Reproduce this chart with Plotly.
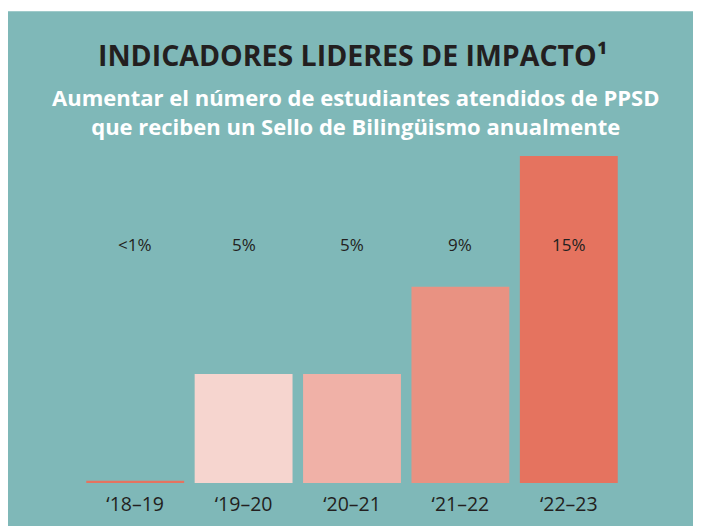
import plotly.graph_objects as go

categories = ["\u201818\u201319", "\u201819\u201320", "\u201820\u201321", "\u201821\u201322", "\u201822\u201323"]
values = [0.1, 5, 5, 9, 15]
value_labels = ["<1%", "5%", "5%", "9%", "15%"]
bar_colors = ["#E5735F", "#F6D5CF", "#F0B1A7", "#E99282", "#E5735F"]

title_text = "INDICADORES LIDERES DE IMPACTO\u00b9"
subtitle_text = "Aumentar el número de estudiantes atendidos de PPSD<br>que reciben un Sello de Bilingüismo anualmente"

TEAL = "#7FB8B8"
DARK = "#231F20"
FONT = "Open Sans"

# page is rendered with an 8px body margin, so geometry is offset by -8px
PL, PT, PW, PH = 73, 148, 542.5, 327.5
BASE = PT + PH

fig = go.Figure(go.Bar(
    x=categories, y=values,
    marker=dict(color=bar_colors, line=dict(width=0)),
    hoverinfo="skip",
))

annotations = []
for c, t in zip(categories, value_labels):
    annotations.append(dict(x=c, y=0.728, xref="x", yref="paper", text=t, showarrow=False,
                            font=dict(family=FONT, size=17, color=DARK), yanchor="middle"))

annotations.append(dict(x=(353 - 8 - PL) / PW, xref="paper", y=(BASE - (55 - 8)) / PH, yref="paper",
                        text=title_text, showarrow=False,
                        font=dict(family=FONT, size=28.5, color=DARK, weight=700),
                        yanchor="middle", xanchor="center"))
annotations.append(dict(x=(356 - 8 - PL) / PW, xref="paper", y=(BASE - (111 - 8)) / PH, yref="paper",
                        text=subtitle_text, showarrow=False,
                        font=dict(family=FONT, size=22, color="white", weight=700),
                        yanchor="middle", xanchor="center", align="center"))

fig.update_layout(
    width=693, height=518,
    margin=dict(l=PL, r=693 - PL - PW, t=PT, b=518 - BASE, pad=0, autoexpand=False),
    paper_bgcolor="white",
    plot_bgcolor="rgba(0,0,0,0)",
    bargap=0.097,
    showlegend=False,
    annotations=annotations,
    shapes=[dict(type="rect", xref="paper", yref="paper",
                 x0=(-2 - PL) / PW, x1=(700 - PL) / PW,
                 y0=(BASE - 530) / PH, y1=(BASE - 3) / PH,
                 fillcolor=TEAL, line=dict(width=0), layer="below")],
    xaxis=dict(range=[-0.5, 4.5], showgrid=False, zeroline=False, showline=False,
               ticks="outside", ticklen=4, tickcolor="rgba(0,0,0,0)", automargin=False,
               tickfont=dict(family=FONT, size=19.5, color=DARK), fixedrange=True),
    yaxis=dict(range=[0, 15], showgrid=False, zeroline=False, showline=False,
               showticklabels=False, fixedrange=True, automargin=False),
)

fig.write_html("out.html")
